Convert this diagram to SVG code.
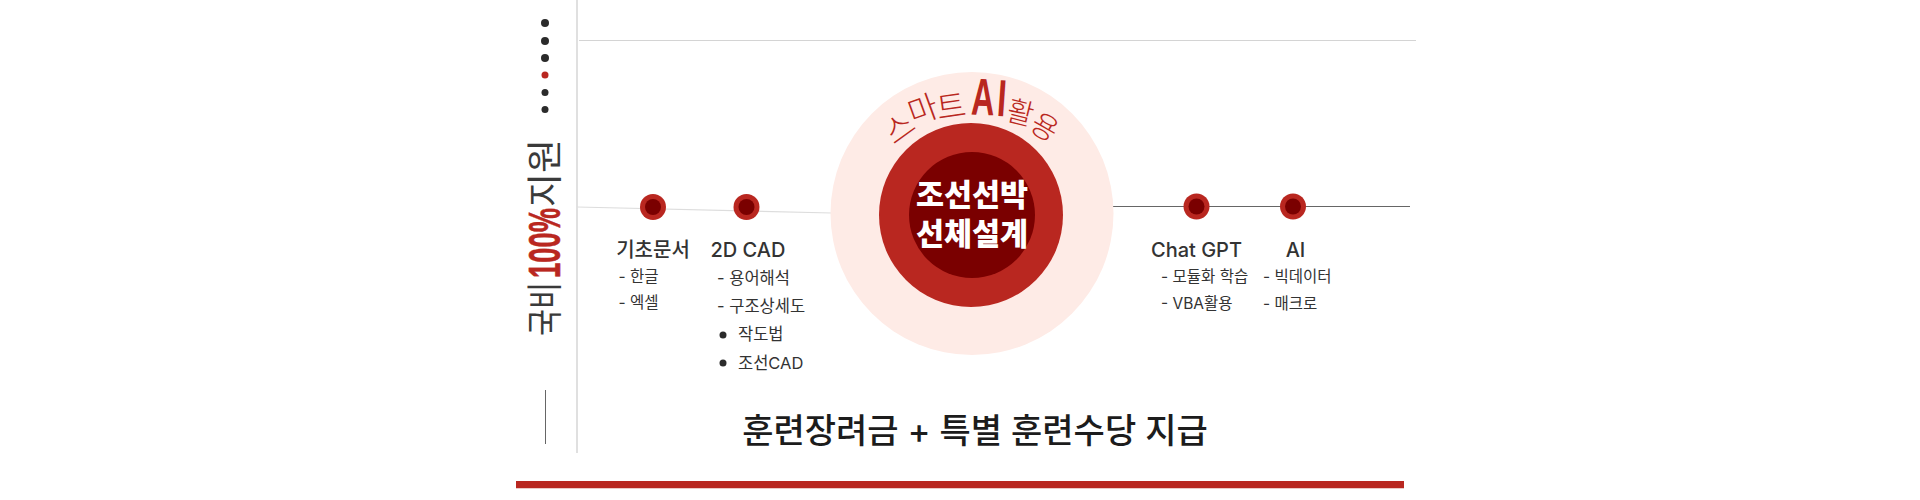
<svg xmlns="http://www.w3.org/2000/svg" width="1920" height="500" viewBox="0 0 1920 500">
<style>
text{font-family:"Inter","Noto Sans CJK KR",sans-serif}
.h{font-size:20px;font-weight:500;fill:#333;text-anchor:middle}
.s{font-size:15.5px;fill:#333}
.l{font-size:16.5px}
.cv{font-size:32px;fill:#b92720;text-anchor:middle;dominant-baseline:central;font-family:"Noto Sans CJK KR",sans-serif;font-weight:300}
.cw{font-size:29px}
.ai{font-size:52px;font-weight:700;fill:#b92720;text-anchor:middle;dominant-baseline:central;font-family:"Liberation Sans",sans-serif}
.c{font-size:30.5px;font-weight:900;fill:#fff;text-anchor:middle;font-family:"Noto Sans CJK KR",sans-serif}
.o{fill:#b92720}.i{fill:#7a0000}
.d{fill:#2b2b2b}
.v{font-size:36px;fill:#3a3a3a;font-family:"Noto Sans CJK KR",sans-serif;font-weight:400}
</style>
<rect width="1920" height="500" fill="#fff"/>
<g id="connectors" fill="none">
<line x1="577" y1="0" x2="577" y2="453" stroke="#ccc" stroke-width="1.2"/>
<line x1="579" y1="40.5" x2="1416" y2="40.5" stroke="#d4d4d4" stroke-width="1.2"/>
<line x1="577" y1="207" x2="832" y2="213" stroke="#ddd" stroke-width="1.2"/>
<line x1="1113" y1="206.500" x2="1410" y2="206.500" stroke="#666" stroke-width="1"/>
<line x1="545.500" y1="390" x2="545.500" y2="444" stroke="#666" stroke-width="1"/>
</g>
<g id="dots">
<circle class="d" cx="545" cy="23" r="4"/><circle class="d" cx="545" cy="41" r="4"/><circle class="d" cx="545" cy="58" r="4"/>
<circle class="o" cx="545" cy="75" r="3.5"/><circle class="d" cx="545" cy="92.500" r="3.500"/><circle class="d" cx="545" cy="109.500" r="3.500"/>
</g>
<g id="side-label">
<text class="v" transform="translate(558,336) rotate(-90)" textLength="54" lengthAdjust="spacingAndGlyphs">국비</text>
<text transform="translate(560,278) rotate(-90)" font-size="45" font-weight="700" fill="#b92720" stroke="#b92720" stroke-width=".6" style="font-family:'Liberation Sans',sans-serif" textLength="70" lengthAdjust="spacingAndGlyphs">100%</text>
<text class="v" transform="translate(558,207) rotate(-90)" textLength="68" lengthAdjust="spacingAndGlyphs">지원</text>
</g>
<g id="node-center">
<circle cx="972" cy="213.500" r="141.500" fill="#feebe6"/>
<circle class="o" cx="971" cy="215" r="92"/>
<circle class="i" cx="972" cy="215" r="63"/>
<text class="cv" transform="translate(898,126) rotate(-36)">스</text>
<text class="cv" transform="translate(922,107) rotate(-20)">마</text>
<text class="cv" transform="translate(951,104) rotate(-8)">트</text>
<text class="ai" transform="translate(983,97) rotate(2) scale(.62,1)">A</text>
<text class="ai" transform="translate(1002,98) rotate(4) scale(.62,1)">I</text>
<text class="cv cw" transform="translate(1021,110) rotate(14)">활</text>
<text class="cv cw" transform="translate(1046,125) rotate(30)">용</text>
<text class="c" x="972" y="206">조선선박</text>
<text class="c" x="972" y="245">선체설계</text>
</g>
<g id="node-basic">
<circle class="o" cx="653" cy="207" r="13"/><circle class="i" cx="653" cy="207" r="8"/>
<text class="h" x="653" y="257">기초문서</text>
<text class="s" x="618.500" y="282">- 한글</text>
<text class="s" x="618.500" y="308">- 엑셀</text>
</g>
<g id="node-2dcad">
<circle class="o" cx="746.500" cy="207" r="13"/><circle class="i" cx="746.500" cy="207" r="8"/>
<text class="h" x="748" y="257">2D CAD</text>
<text class="s l" x="717" y="284">- 용어해석</text>
<text class="s l" x="717" y="312">- 구조상세도</text>
<circle class="d" cx="723" cy="335" r="3.500"/><text class="s l" x="738" y="340">작도법</text>
<circle class="d" cx="723" cy="363" r="3.500"/><text class="s l" x="738" y="369">조선CAD</text>
</g>
<g id="node-chatgpt">
<circle class="o" cx="1196.500" cy="206.500" r="13"/><circle class="i" cx="1196.500" cy="206.500" r="8"/>
<text class="h" x="1196.500" y="257">Chat GPT</text>
<text class="s" x="1161" y="282">- 모듈화 학습</text>
<text class="s" x="1161" y="309">- VBA활용</text>
</g>
<g id="node-ai">
<circle class="o" cx="1293" cy="206.500" r="13"/><circle class="i" cx="1293" cy="206.500" r="8"/>
<text class="h" x="1295.500" y="257">AI</text>
<text class="s" x="1263" y="282">- 빅데이터</text>
<text class="s" x="1263" y="309">- 매크로</text>
</g>
<g id="footer">
<text x="975" y="443" font-size="34" font-weight="500" fill="#1c1c1c" text-anchor="middle">훈련장려금 + 특별 훈련수당 지급</text>
<rect x="516" y="481" width="888" height="7" fill="#b92720"/>
<rect x="516" y="488" width="888" height="1" fill="#ecc9c6"/>
</g>
</svg>
